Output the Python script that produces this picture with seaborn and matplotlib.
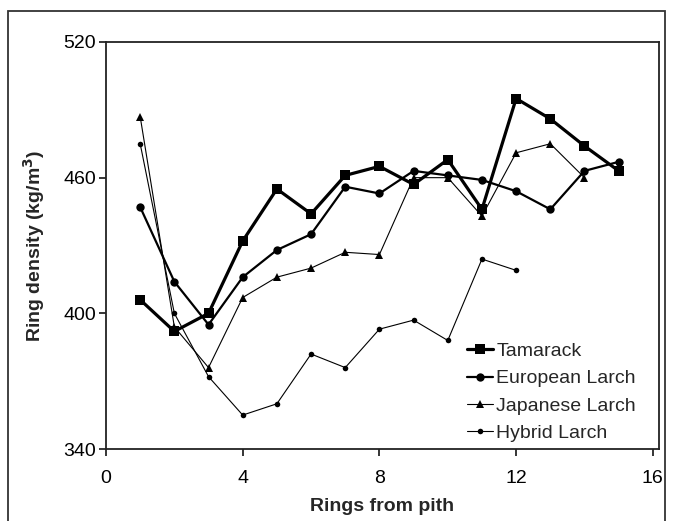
import matplotlib
matplotlib.use('Agg')
import matplotlib.pyplot as plt
import numpy as np
import pandas as pd
import seaborn as sns
from matplotlib.patches import Rectangle

# values
rings = list(range(1, 16))
tamarack = [406, 392, 400, 432, 455, 444, 461, 465, 457, 468, 446, 495, 486, 474, 463]
european = [447, 414, 395, 416, 428, 435, 456, 453, 463, 461, 459, 454, 446, 463, 467]
japanese = [487, 394, 376, 407, 416, 420, 427, 426, 460, 460, 443, 471, 475, 460]
hybrid = [475, 400, 372, 355, 360, 382, 376, 393, 397, 388, 424, 419]

series_names = ['Tamarack', 'European Larch', 'Japanese Larch', 'Hybrid Larch']
series_values = [tamarack, european, japanese, hybrid]

x_ticks = [0, 4, 8, 12, 16]
y_ticks = [340, 400, 460, 520]

rows = []
for name, vals in zip(series_names, series_values):
    for r, v in zip(rings, vals):
        rows.append({'ring': r, 'density': v, 'species': name})
df = pd.DataFrame(rows)

sns.set_style('ticks')
plt.rcParams['font.family'] = ['Liberation Sans', 'DejaVu Sans']

styles = {
    'Tamarack': dict(marker='s', lw=2.3, ms=6.5),
    'European Larch': dict(marker='o', lw=1.6, ms=6),
    'Japanese Larch': dict(marker='^', lw=0.8, ms=6),
    'Hybrid Larch': dict(marker='o', lw=0.8, ms=4),
}

fig = plt.figure(figsize=(6.73, 5.21), dpi=100)
ax = fig.add_axes([106 / 673, 1 - 449 / 521, (659 - 106) / 673, (449 - 42) / 521])

for name in series_names:
    st = styles[name]
    sns.lineplot(data=df[df['species'] == name], x='ring', y='density', ax=ax,
                 color='black', marker=st['marker'], linewidth=st['lw'],
                 markersize=st['ms'], markeredgewidth=0, label=name)

ax.set_xlim(0, 16.18)
ax.set_ylim(340, 520)
ax.set_xticks(x_ticks)
ax.set_yticks(y_ticks)
ax.tick_params(direction='out', length=5, width=1.1, labelsize=14, colors='black')
ax.tick_params(axis='x', pad=10)
ax.tick_params(axis='y', pad=2)
for sp in ax.spines.values():
    sp.set_linewidth(1.3)
    sp.set_color('#222222')

ax.set_xlabel('Rings from pith', fontsize=14, fontweight='bold', labelpad=8)
ax.set_ylabel('Ring density (kg/m$^\\mathbf{3}$)', fontsize=14, fontweight='bold', labelpad=12)

leg = ax.legend(loc='lower right', frameon=False, fontsize=14, handlelength=1.35,
                handletextpad=0.15, labelspacing=0.5, borderpad=0, borderaxespad=0,
                bbox_to_anchor=(0.958, 0.017))

# outer frame around whole figure
fig.add_artist(Rectangle((8 / 673, -0.01), (665 - 8) / 673, 1.01 - 11 / 521,
                         transform=fig.transFigure, fill=False,
                         edgecolor='#333333', linewidth=1.3))

fig.savefig('out.png', dpi=100)
